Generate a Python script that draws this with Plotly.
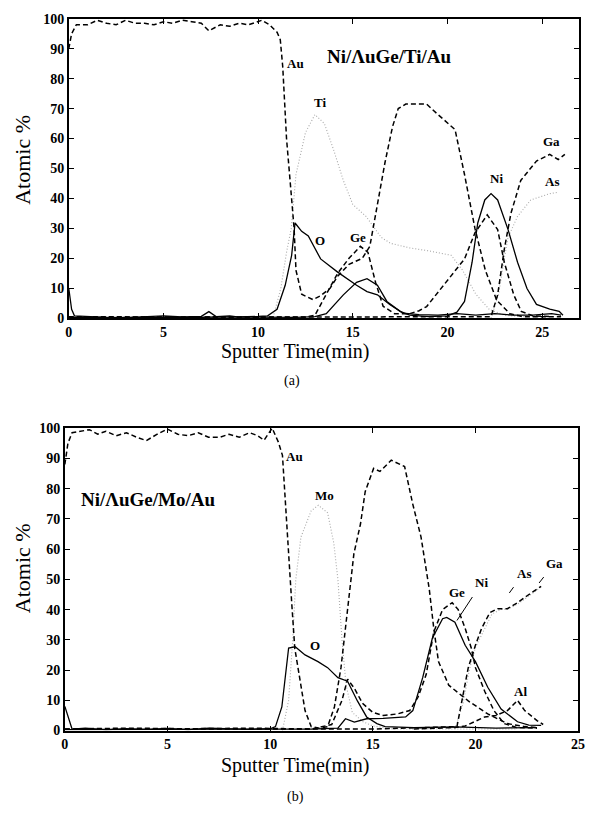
import plotly.graph_objects as go

# ---------------- data: panel (a) Ni/AuGe/Ti/Au ----------------
a_au_x = [0, 0.15, 0.4, 1, 1.5, 2, 2.5, 3, 3.5, 4, 4.5, 5, 5.5, 6, 6.5, 7, 7.4, 8, 8.5, 9, 9.5, 10.2,
          10.6, 11.0, 11.17, 11.3, 11.5, 11.77, 11.9, 12.0, 12.3, 12.9, 13.3, 13.8, 14.2, 14.8, 15.5,
          15.9, 16.3, 16.7, 17.1, 17.4, 17.8, 18.9, 19.5, 20.4, 20.9, 21.45, 22.0, 22.6, 23.3, 24, 25, 26]
a_au_y = [90, 95, 98, 98, 99.5, 98.5, 98, 99.5, 98.5, 98.5, 98, 99, 98.5, 99.5, 99, 98.5, 96, 98, 97.5,
          98.5, 98, 99.5, 98, 95.5, 93, 84, 60, 38, 30, 16, 8, 6.2, 7.5, 10, 14, 18, 20, 24, 38, 52, 64,
          70, 71.5, 71.5, 68, 63, 48, 30, 16, 6, 1.5, 0.5, 0.5, 0.5]

a_ti_x = [0, 5, 10, 10.8, 11.2, 11.5, 11.75, 12.0, 12.5, 13.0, 13.5, 14.0, 14.5, 15.0, 15.7, 16.5, 17,
          18, 19, 20.2, 20.8, 21.5, 22.2, 23, 24, 25]
a_ti_y = [0.3, 0.3, 0.3, 0.5, 10, 22, 30, 48, 62, 68, 65, 56, 46, 38, 34, 27, 25, 23.5, 22.5, 21, 16,
          8, 3, 1, 0.5, 0.5]

a_o_x = [0, 0.15, 0.3, 1, 2, 3, 4, 5, 6, 7, 7.4, 7.8, 8.5, 9, 10, 10.5, 11.0, 11.43, 11.77, 11.95,
         12.3, 12.65, 13.3, 14.2, 15.2, 15.75, 16.3, 16.95, 17.65, 18.5, 19.5, 20.5, 21.5, 22.5, 23.5,
         24.5, 25.5, 26.0]
a_o_y = [10, 3, 0.8, 0.5, 0.3, 0.2, 0.5, 0.8, 0.4, 0.6, 2.2, 0.5, 0.8, 0.4, 0.6, 0.8, 3, 11, 21, 31.8,
         29, 27.5, 19.8, 15.4, 11, 8.9, 7.8, 4.6, 1.7, 1.2, 1, 1.5, 1, 1.5, 1, 1, 1.5, 1]

a_ge_x = [0, 5, 10, 12.5, 13.0, 13.6, 14.2, 14.8, 15.4, 15.8, 16.2, 16.6, 17.2, 18, 18.5, 18.9, 19.9,
          20.9, 21.45, 22.1, 22.65, 23.0, 23.5, 23.9, 24.5, 25.5]
a_ge_y = [0.5, 0.5, 0.5, 0.3, 1, 8, 15, 20, 24, 22, 12, 4, 1.5, 1.5, 2.5, 3.9, 12, 19.8, 28.5, 34.5,
          29.6, 18.7, 7.8, 2.3, 0.8, 0.5]

a_ni_x = [0, 2, 4, 6, 8, 10, 12, 13.0, 13.6, 14.5, 15.2, 15.75, 16.3, 16.8, 17.5, 18, 19, 20, 20.5,
          20.9, 21.3, 21.6, 21.97, 22.3, 22.65, 23.2, 23.7, 24.2, 24.7, 25.4, 25.9, 26.1]
a_ni_y = [0.3, 0.2, 0.3, 0.2, 0.4, 0.3, 0.3, 0.5, 1.5, 7.8, 12, 13.2, 11, 5.6, 2.3, 1, 0.5, 0.8, 2,
          5.6, 18.7, 31.8, 39.5, 41.6, 39.5, 29.6, 18.7, 9.9, 4.6, 3, 2.3, 1]

a_ga_x = [0, 5, 10, 15, 20, 22.3, 22.65, 23.0, 23.35, 23.87, 24.7, 25.4, 25.85, 26.2]
a_ga_y = [0.3, 0.3, 0.3, 0.3, 0.5, 0.5, 7.8, 23, 35, 46, 52.5, 54.7, 53, 54.7]

a_as_x = [22.3, 22.7, 23.0, 23.2, 23.7, 24.4, 25.4, 25.8]
a_as_y = [0, 8, 20, 27, 34, 39.5, 41.6, 42]

# ---------------- data: panel (b) Ni/AuGe/Mo/Au ----------------
b_au_x = [0, 0.15, 0.35, 0.8, 1.2, 1.6, 2.0, 2.5, 3.0, 3.5, 3.97, 4.5, 5.0, 5.5, 6.0, 6.5, 7.0, 7.55,
          8.0, 8.5, 9.0, 9.4, 9.7, 10.1, 10.4, 10.6, 10.74, 10.9, 11.05, 11.2, 11.4, 11.7, 12.0, 12.4,
          12.8, 13.13, 13.45, 13.77, 14.08, 14.4, 14.63, 15.04, 15.35, 15.9, 16.55, 16.95, 17.35,
          17.75, 17.97, 18.2, 18.7, 19.65, 20.6, 21.56, 22.4, 23.0]
b_au_y = [88, 95, 98.5, 99, 99.5, 98, 99, 97.5, 98.5, 97, 95.9, 98, 99.7, 98, 97.5, 98.5, 97, 97, 98,
          97, 98.5, 97.5, 96, 100, 95.4, 91, 74.8, 58.5, 42.3, 27.2, 18.5, 6.6, 1.3, 0.8, 1.3, 7.8,
          20.8, 39, 58.5, 68.3, 79, 86.7, 85.7, 89.4, 87.3, 74.8, 64, 46.8, 33.8, 22.8, 15, 9.8, 5.5,
          2.3, 1.3, 1]

b_mo_x = [10.6, 10.9, 11.1, 11.25, 11.5, 12.0, 12.35, 12.8, 13.1, 13.3, 13.5, 13.7, 14.0, 14.5, 15,
          16, 18, 20, 22]
b_mo_y = [0, 10, 30, 50, 64, 72.7, 74.5, 72, 62, 50, 30, 15, 6, 3, 1.5, 0.5, 0.5, 0.5, 0.5]

b_o_x = [0, 0.35, 1, 2, 3, 4, 5, 6, 7, 8, 9, 10.0, 10.26, 10.57, 10.9, 11.22, 11.7, 12.33, 12.8, 13.3,
         13.77, 14.25, 14.7, 15.2, 15.6, 17, 19, 21, 23]
b_o_y = [8, 0.5, 0.8, 0.3, 0.6, 0.4, 0.7, 0.3, 0.8, 0.5, 0.4, 0.6, 1.3, 7.8, 27.3, 27.7, 25, 22.8,
         20.8, 17.5, 16.3, 9.8, 4.5, 2.3, 1.3, 1, 1.2, 0.8, 1]

b_ni_x = [0, 3, 6, 9, 12, 13.3, 13.67, 14.1, 14.7, 15.5, 16.2, 16.6, 16.95, 17.43, 17.9, 18.4, 18.6,
          19.0, 19.5, 20.0, 20.6, 21.25, 22.05, 22.6, 23.2]
b_ni_y = [0.3, 0.3, 0.3, 0.3, 0.5, 0.8, 3.9, 2.8, 3.9, 4, 4.2, 4.5, 6.6, 17.5, 30.5, 37, 37.4, 35.8,
          28.2, 22.8, 14.3, 7.1, 2.9, 1.8, 1.7]

b_ge_x = [0, 3, 6, 9, 12, 13.0, 13.5, 13.77, 14.1, 14.5, 15.0, 15.5, 16.2, 16.8, 17.2, 17.6, 17.97,
          18.4, 18.87, 19.16, 19.5, 19.8, 20.0, 20.45, 20.9, 21.4, 22, 23]
b_ge_y = [0.5, 0.8, 0.6, 0.8, 0.5, 2, 10, 17, 14, 9, 6, 5, 5.5, 6.6, 11, 18.5, 32.6, 40, 42.3, 40,
          33.8, 27.2, 20.8, 13, 6.6, 2.3, 1, 0.8]

b_ga_x = [0, 5, 10, 15, 19.1, 19.34, 19.65, 20.0, 20.3, 20.7, 21.08, 21.56, 22.05, 22.5, 23.0, 23.2]
b_ga_y = [0.5, 0.5, 0.5, 0.5, 1.3, 9.8, 20.8, 28.2, 33.8, 39, 40.3, 40.3, 42.3, 44.5, 46.8, 47.7]

b_as_x = [19.0, 19.4, 19.7, 20.0, 20.4, 20.8, 21.2, 21.6, 22.1, 22.6, 23.2]
b_as_y = [0.5, 9, 20, 27.5, 33, 38.5, 40, 40.2, 42, 44.4, 47.5]

b_al_x = [17, 18, 19, 19.5, 20, 20.45, 21, 21.56, 22.05, 22.4, 23.0, 23.3]
b_al_y = [0.5, 0.8, 1, 1.5, 3, 4.5, 5, 6.6, 10, 6.6, 3.3, 2]

x_ticks = [0, 5, 10, 15, 20, 25]
y_ticks = [0, 10, 20, 30, 40, 50, 60, 70, 80, 90, 100]

# ---------------- styles ----------------
SERIF = "Liberation Serif"
DASH = dict(color="black", width=1.5, dash="5px,3px")
SOLID = dict(color="black", width=1.3)
DOT = dict(color="#a8a8a8", width=1.1, dash="1px,2px")

W, H = 590, 822
fig = go.Figure()

def add(x, y, line, ax):
    fig.add_trace(go.Scatter(x=x, y=y, mode="lines", line=line, showlegend=False,
                             hoverinfo="skip", xaxis="x" if ax == 1 else "x2",
                             yaxis="y" if ax == 1 else "y2"))

add(a_ti_x, a_ti_y, DOT, 1)
add(a_as_x, a_as_y, DOT, 1)
add(a_au_x, a_au_y, DASH, 1)
add(a_ge_x, a_ge_y, DASH, 1)
add(a_ga_x, a_ga_y, DASH, 1)
add(a_o_x, a_o_y, SOLID, 1)
add(a_ni_x, a_ni_y, SOLID, 1)

add(b_mo_x, b_mo_y, DOT, 2)
add(b_as_x, b_as_y, DOT, 2)
add(b_au_x, b_au_y, DASH, 2)
add(b_ge_x, b_ge_y, DASH, 2)
add(b_ga_x, b_ga_y, DASH, 2)
add(b_al_x, b_al_y, DASH, 2)
add(b_o_x, b_o_y, SOLID, 2)
add(b_ni_x, b_ni_y, SOLID, 2)

axis_common = dict(showline=True, linecolor="black", linewidth=1.5, mirror="ticks",
                   ticks="inside", ticklen=5, tickwidth=1.2, tickcolor="black",
                   showgrid=False, zeroline=False, ticklabeloverflow="allow",
                   tickfont=dict(family=SERIF, size=14, color="black", weight="bold"))

fig.update_layout(
    width=W, height=H,
    margin=dict(l=0, r=0, t=0, b=0),
    paper_bgcolor="white", plot_bgcolor="white",
    xaxis=dict(domain=[66 / W, 586 / W], range=[0, 26.95], tickvals=x_ticks,
               anchor="y", **axis_common),
    yaxis=dict(domain=[(H - 317) / H, (H - 12) / H], range=[0, 100], tickvals=y_ticks,
               anchor="x", **axis_common),
    xaxis2=dict(domain=[62 / W, 585 / W], range=[0, 25], tickvals=x_ticks,
                anchor="y2", **axis_common),
    yaxis2=dict(domain=[(H - 737) / H, (H - 429) / H], range=[0, 100], tickvals=y_ticks,
                anchor="x2", **axis_common),
)

LBL = dict(family=SERIF, size=13, color="black", weight="bold")
anns = []

def lab(text, x, y, ax=1, size=13, xanchor="center"):
    f = dict(LBL)
    f["size"] = size
    anns.append(dict(text=text, x=x, y=y, xref="x" if ax == 1 else "x2",
                     yref="y" if ax == 1 else "y2", showarrow=False, font=f,
                     xanchor=xanchor))

# panel (a) labels
lab("Au", 12.0, 85)
lab("Ni/ΛuGe/Ti/Au", 16.95, 87.5, size=19)
lab("Ti", 13.25, 72)
lab("O", 13.25, 26)
lab("Ge", 15.3, 27)
lab("Ni", 22.57, 46.5)
lab("Ga", 25.5, 59)
lab("As", 25.5, 45.5)

# panel (b) labels
lab("Au", 11.2, 90.5, ax=2)
lab("Ni/ΛuGe/Mo/Au", 4.05, 76.4, ax=2, size=19)
lab("Mo", 12.65, 77.6, ax=2)
lab("O", 12.17, 28.2, ax=2)
lab("Ge", 19.1, 45.5, ax=2)
lab("Al", 22.2, 13, ax=2)

# labels with leader lines in panel (b)
for text, tx, ty, px, py in [("Ni", 20.3, 48.8, 19.1, 36.4),
                             ("As", 22.35, 52, 21.65, 45.5),
                             ("Ga", 23.85, 55.3, 23.1, 48.8)]:
    anns.append(dict(text=text, x=px, y=py, ax=tx, ay=ty, xref="x2", yref="y2",
                     axref="x2", ayref="y2", showarrow=True, arrowhead=0, arrowwidth=1,
                     arrowcolor="black", standoff=0, startstandoff=6, font=LBL))

for text, x, y, angle, size in [("Atomic %", 19 / W, (H - 156) / H, -90, 22),
                                ("Atomic %", 19 / W, (H - 572) / H, -90, 22),
                                ("Sputter Time(min)", 297 / W, (H - 351) / H, 0, 20),
                                ("Sputter Time(min)", 297 / W, (H - 773) / H, 0, 20)]:
    anns.append(dict(text=text, x=x, y=y, xref="paper", yref="paper", showarrow=False,
                     textangle=angle, font=dict(family=SERIF, size=size, color="black"),
                     xanchor="center", yanchor="middle"))

for text, x, y in [("(a)", 293 / W, (H - 381) / H), ("(b)", 297 / W, (H - 805) / H)]:
    anns.append(dict(text=text, x=x, y=y, xref="paper", yref="paper", showarrow=False,
                     font=dict(family=SERIF, size=14, color="black"),
                     xanchor="center", yanchor="middle"))

fig.update_layout(annotations=anns)
fig.write_html("out.html", config={"displayModeBar": False},
               post_script="document.body.style.margin='0';document.body.style.overflow='hidden';")
